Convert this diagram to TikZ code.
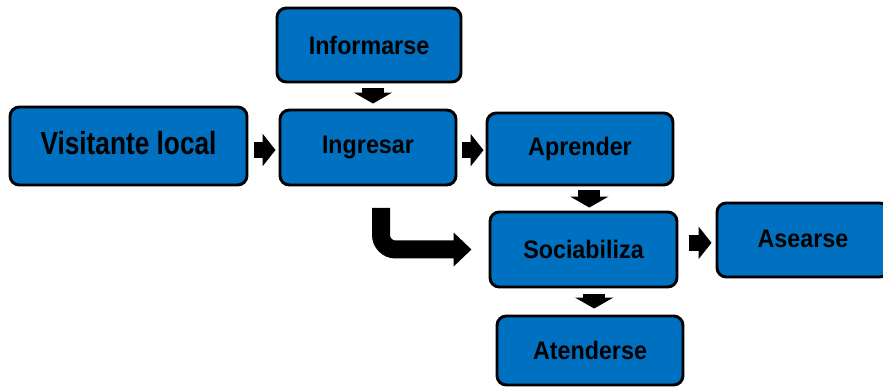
\documentclass[tikz,border=0pt]{standalone}
\usepackage{fontspec}
\setmainfont{Liberation Sans}
\usepackage{tikz}
\usetikzlibrary{arrows.meta}
\definecolor{boxblue}{RGB}{0,112,192}

\begin{document}
\begin{tikzpicture}[x=0.75pt, y=-0.75pt,
  every node/.style={font=\fontsize{19}{22}\selectfont\bfseries, align=center},
  stage/.style={draw, line width=2.2pt, rounded corners=7pt, fill=boxblue, inner sep=0pt},
  harrow/.style={line width=12pt, -{Triangle[length=9.75pt, width=24pt]}},
  varrow/.style={line width=16.5pt, -{Triangle[length=8.25pt, width=28.5pt]}},
  bendarrow/.style={line width=13.5pt, rounded corners=11pt, -{Triangle[length=13.5pt, width=24.75pt]}}]
\useasboundingbox (0,0) rectangle (883,388);
\node[stage, minimum width=177.75pt, minimum height=58.5pt] (vis) at (128.5,146) {\raisebox{4pt}{\scalebox{0.82}[1]{\fontsize{24}{28}\selectfont Visitante local}}};
\node[stage, minimum width=138pt, minimum height=55.5pt] (inf) at (369,45) {\scalebox{0.92}[1]{Informarse}};
\node[stage, minimum width=132pt, minimum height=56.25pt] (ing) at (368,147.5) {\scalebox{0.92}[1]{Ingresar}};
\node[stage, minimum width=139.5pt, minimum height=54pt] (apr) at (580,149) {\raisebox{2pt}{\scalebox{0.92}[1]{Aprender}}};
\node[stage, minimum width=140.25pt, minimum height=56.25pt] (soc) at (583.5,249.5) {\scalebox{0.92}[1]{Sociabiliza}};
\node[stage, minimum width=129pt, minimum height=55.5pt] (ase) at (803,240) {\raisebox{2pt}{\scalebox{0.92}[1]{Asearse}}};
\node[stage, minimum width=139.5pt, minimum height=51.75pt] (ate) at (590,350.5) {\scalebox{0.92}[1]{Atenderse}};
\coordinate (bend) at (381,208);
% block arrows between the stages
\draw[harrow, shorten <=4.5pt, shorten >=2.25pt] ([yshift=-3pt]vis.east) -- ([yshift=-3pt]vis.east -| ing.west);
\draw[varrow, shorten <=3.75pt, shorten >=3.75pt] ([xshift=3pt]inf.south) -- ([xshift=3pt]inf.south |- ing.north);
\draw[harrow, shorten <=3.75pt, shorten >=1.5pt] ([yshift=-2pt]ing.east) -- ([yshift=-2pt]ing.east -| apr.west);
\draw[varrow, shorten <=3pt, shorten >=2.25pt] ([xshift=7pt]apr.south) -- ([xshift=7pt]apr.south |- soc.north);
\draw[harrow, shorten <=8pt, shorten >=3pt] ([yshift=5pt]soc.east) -- ([yshift=5pt]soc.east -| ase.west);
\draw[varrow, shorten <=4.5pt, shorten >=4.5pt] ([xshift=8pt]soc.south) -- ([xshift=8pt]soc.south |- ate.north);
\draw[bendarrow, shorten >=12.75pt] (bend) |- (soc.west);
\end{tikzpicture}
\end{document}
